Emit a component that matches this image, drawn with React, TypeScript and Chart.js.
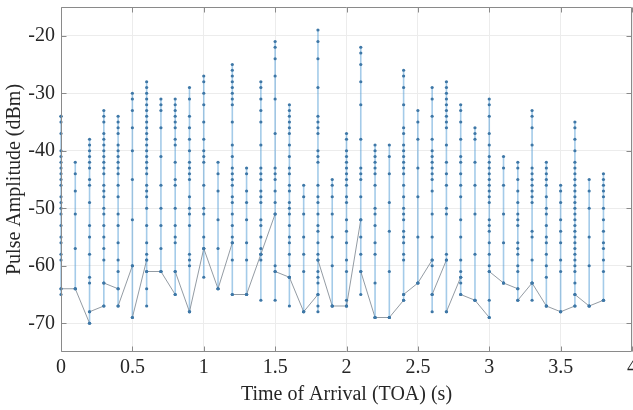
import React, { useEffect, useRef } from 'react';
import { Chart, registerables } from 'chart.js';

Chart.register(...registerables);

// Time of arrival of each pulse burst (s)
const burstTimes = [
  0, 0.1, 0.2, 0.3, 0.4, 0.5, 0.6, 0.7, 0.8, 0.9,
  1.0, 1.1, 1.2, 1.3, 1.4, 1.5, 1.6, 1.7, 1.8, 1.9,
  2.0, 2.1, 2.2, 2.3, 2.4, 2.5, 2.6, 2.7, 2.8, 2.9,
  3.0, 3.1, 3.2, 3.3, 3.4, 3.5, 3.6, 3.7, 3.8,
];

// Amplitude (dBm) of the first pulse of each burst
const entryLevels = [
  -34, -64, -70, -67, -64, -60, -59, -61, -65, -68,
  -57, -64, -56, -65, -58, -51, -62, -68, -65, -67,
  -67, -52, -69, -69, -66, -63, -59, -59, -62, -66,
  -69, -63, -64, -63, -67, -68, -67, -67, -66,
];

// Amplitude (dBm) of the last pulse of each burst
const exitLevels = [
  -64, -64, -68, -63, -67, -69, -61, -61, -61, -68,
  -57, -64, -65, -65, -58, -61, -62, -68, -59, -67,
  -67, -61, -69, -69, -65, -63, -65, -68, -65, -66,
  -61, -63, -66, -63, -67, -68, -65, -67, -66,
];

// Amplitudes (dBm) of the pulses inside each burst
const burstLevels = [
  [-34, -35, -37, -40, -41, -42, -43, -44, -45, -46, -48, -49, -50, -51, -53, -55, -56, -58, -59, -64, -65],
  [-42, -44, -47, -51, -57, -64],
  [-38, -39, -40, -41, -42, -43, -45, -46, -49, -53, -55, -58, -62, -63, -68, -70],
  [-33, -34, -35, -37, -38, -39, -40, -41, -42, -43, -44, -46, -47, -48, -50, -51, -53, -55, -57, -59, -63, -67],
  [-34, -35, -36, -37, -39, -40, -41, -42, -43, -44, -46, -48, -51, -53, -56, -59, -61, -64, -67],
  [-30, -31, -33, -36, -40, -45, -52, -60, -69],
  [-28, -29, -30, -31, -32, -33, -34, -35, -36, -37, -38, -39, -40, -41, -42, -43, -44, -46, -47, -48, -50, -53, -56, -58, -59, -61, -64, -67],
  [-31, -32, -33, -36, -41, -46, -50, -53, -57, -61],
  [-31, -32, -33, -34, -35, -36, -38, -39, -42, -45, -46, -50, -53, -55, -56, -61, -65],
  [-29, -31, -34, -36, -38, -40, -42, -43, -44, -45, -48, -50, -51, -53, -58, -59, -60, -68],
  [-27, -28, -30, -32, -35, -38, -40, -41, -42, -46, -50, -51, -55, -57, -62],
  [-42, -44, -47, -52, -57, -64],
  [-25, -26, -27, -28, -29, -30, -31, -32, -35, -39, -41, -43, -44, -45, -46, -48, -49, -51, -53, -55, -56, -59, -65],
  [-43, -44, -47, -49, -52, -56, -59, -65],
  [-28, -29, -31, -33, -35, -39, -43, -44, -45, -47, -48, -49, -52, -53, -55, -57, -58, -59, -66],
  [-21, -22, -24, -27, -31, -37, -43, -44, -45, -47, -49, -51, -60, -61, -66],
  [-32, -33, -34, -35, -36, -37, -39, -41, -43, -44, -46, -47, -49, -50, -51, -53, -55, -56, -58, -60, -62, -67],
  [-46, -48, -51, -55, -58, -61, -68],
  [-19, -21, -24, -29, -34, -35, -36, -37, -40, -41, -42, -46, -48, -49, -51, -53, -54, -56, -58, -59, -61, -62, -63, -65, -67, -68],
  [-45, -46, -48, -51, -55, -60, -67],
  [-37, -38, -40, -41, -42, -43, -44, -45, -46, -48, -49, -52, -54, -56, -59, -61, -66, -67],
  [-22, -23, -25, -28, -32, -38, -43, -44, -45, -48, -52, -55, -58, -61, -65],
  [-39, -40, -41, -42, -43, -44, -46, -50, -51, -53, -56, -58, -63, -69],
  [-39, -41, -44, -49, -54, -61, -69],
  [-26, -27, -29, -32, -36, -37, -39, -40, -41, -42, -43, -44, -46, -48, -50, -51, -52, -54, -55, -56, -58, -59, -65, -66],
  [-33, -35, -38, -43, -48, -55, -63],
  [-29, -31, -34, -38, -40, -41, -42, -43, -44, -45, -47, -51, -55, -59, -60, -65, -68],
  [-28, -29, -30, -31, -32, -33, -34, -35, -36, -39, -42, -44, -46, -50, -51, -58, -59, -68],
  [-32, -33, -35, -38, -41, -42, -44, -46, -48, -52, -55, -59, -61, -62, -63, -65],
  [-36, -37, -38, -42, -46, -51, -58, -66],
  [-31, -32, -34, -37, -39, -41, -42, -43, -44, -45, -46, -47, -48, -49, -52, -53, -54, -56, -58, -60, -61, -66, -69],
  [-41, -43, -46, -51, -56, -63],
  [-42, -43, -45, -47, -49, -51, -52, -53, -56, -57, -58, -60, -61, -64, -66],
  [-33, -34, -36, -39, -43, -44, -45, -46, -47, -48, -49, -54, -55, -59, -63, -66],
  [-42, -43, -44, -45, -46, -48, -50, -51, -53, -55, -56, -58, -60, -62, -67],
  [-46, -47, -49, -52, -54, -56, -59, -61, -68],
  [-35, -36, -38, -40, -42, -43, -44, -45, -46, -47, -48, -49, -50, -51, -52, -53, -54, -55, -56, -57, -58, -59, -60, -61, -63, -65, -67],
  [-45, -47, -50, -55, -60, -67],
  [-44, -45, -46, -47, -48, -50, -52, -54, -56, -57, -59, -61, -66],
];

const xTitle = 'Time of Arrival (TOA) (s)';
const yTitle = 'Pulse Amplitude (dBm)';
const xRange = [0, 4];
const yRange = [-75, -15];
const xTickValues = [0, 0.5, 1, 1.5, 2, 2.5, 3, 3.5, 4];
const xTickLabels = ['0', '0.5', '1', '1.5', '2', '2.5', '3', '3.5', '4'];
const yTickValues = [-70, -60, -50, -40, -30, -20];
const yTickLabels = ['-70', '-60', '-50', '-40', '-30', '-20'];

const FONT = "'Liberation Serif', 'Times New Roman', serif";

function buildPoints() {
  const pts: { x: number; y: number }[] = [];
  burstTimes.forEach((t, i) => {
    const levels = [...burstLevels[i]].sort((a, b) => b - a);
    pts.push({ x: t, y: entryLevels[i] });
    levels.forEach((v) => pts.push({ x: t, y: v }));
    pts.push({ x: t, y: exitLevels[i] });
  });
  return pts;
}

const boxPlugin = {
  id: 'matlabBox',
  afterDraw(chart: any) {
    const { ctx, chartArea: a, scales } = chart;
    ctx.save();
    ctx.strokeStyle = '#8a8a8a';
    ctx.lineWidth = 1;
    const L = Math.round(a.left) + 0.5;
    const R = Math.round(a.right) - 0.5;
    const T = Math.round(a.top) + 0.5;
    const B = Math.round(a.bottom) - 0.5;
    ctx.beginPath();
    ctx.moveTo(L, T);
    ctx.lineTo(R, T);
    ctx.lineTo(R, B);
    ctx.lineTo(L, B);
    ctx.closePath();
    ctx.stroke();
    const len = 5;
    ctx.beginPath();
    scales.x.ticks.forEach((t: any) => {
      const px = Math.round(scales.x.getPixelForValue(t.value)) + 0.5;
      ctx.moveTo(px, B);
      ctx.lineTo(px, B - len);
      ctx.moveTo(px, T);
      ctx.lineTo(px, T + len);
    });
    scales.y.ticks.forEach((t: any) => {
      const py = Math.round(scales.y.getPixelForValue(t.value)) + 0.5;
      ctx.moveTo(L, py);
      ctx.lineTo(L + len, py);
      ctx.moveTo(R, py);
      ctx.lineTo(R - len, py);
    });
    ctx.stroke();
    ctx.restore();
  },
};

export default function App() {
  const ref = useRef<HTMLCanvasElement | null>(null);

  useEffect(() => {
    if (!ref.current) return;
    const chart = new Chart(ref.current, {
      type: 'scatter',
      data: {
        datasets: [
          {
            data: buildPoints(),
            showLine: true,
            clip: false,
            tension: 0,
            borderWidth: 1,
            borderColor: 'rgba(90,155,210,0.6)',
            segment: {
              borderColor: (c: any) =>
                c.p0.parsed.x === c.p1.parsed.x ? 'rgba(90,160,215,0.55)' : 'rgba(120,130,140,0.8)',
              borderWidth: (c: any) => (c.p0.parsed.x === c.p1.parsed.x ? 1.6 : 1),
            },
            pointRadius: 1.6,
            pointBorderWidth: 0,
            pointBackgroundColor: '#3e77a6',
            pointBorderColor: '#3e77a6',
          },
        ],
      },
      options: {
        responsive: false,
        maintainAspectRatio: false,
        animation: false,
        devicePixelRatio: 1,
        events: [],
        layout: { padding: { top: 7, left: 0, right: 0, bottom: 0 } },
        plugins: { legend: { display: false }, tooltip: { enabled: false } },
        scales: {
          x: {
            type: 'linear',
            min: xRange[0],
            max: xRange[1],
            afterBuildTicks: (s: any) => {
              s.ticks = xTickValues.map((v) => ({ value: v }));
            },
            afterFit: (s: any) => {
              s.height = 58;
              s.paddingLeft = 0;
              s.paddingRight = 0;
            },
            ticks: {
              padding: 4,
              color: '#262626',
              font: { family: FONT, size: 20 },
              maxRotation: 0,
              autoSkip: false,
              callback: (_v: any, i: number) => xTickLabels[i],
            },
            grid: { color: '#ececec', lineWidth: 1, drawTicks: false },
            border: { display: false },
            title: {
              display: true,
              text: xTitle,
              color: '#262626',
              font: { family: FONT, size: 20 },
              padding: { top: 0, bottom: 3 },
            },
          },
          y: {
            type: 'linear',
            min: yRange[0],
            max: yRange[1],
            afterBuildTicks: (s: any) => {
              s.ticks = yTickValues.map((v) => ({ value: v }));
            },
            afterFit: (s: any) => {
              s.width = 61;
              s.paddingTop = 0;
              s.paddingBottom = 0;
            },
            ticks: {
              padding: 6,
              color: '#262626',
              font: { family: FONT, size: 20 },
              autoSkip: false,
              callback: (_v: any, i: number) => yTickLabels[i],
            },
            grid: { color: '#ececec', lineWidth: 1, drawTicks: false },
            border: { display: false },
            title: {
              display: true,
              text: yTitle,
              color: '#262626',
              font: { family: FONT, size: 20 },
              padding: { top: 3, bottom: 0 },
            },
          },
        },
      },
      plugins: [boxPlugin],
    });
    return () => chart.destroy();
  }, []);

  return (
    <div style={{ position: 'fixed', left: 0, top: 0, width: 633, height: 410, overflow: 'hidden', background: '#fff' }}>
      <canvas ref={ref} width={636} height={410} style={{ display: 'block', width: 636, height: 410 }} />
    </div>
  );
}
